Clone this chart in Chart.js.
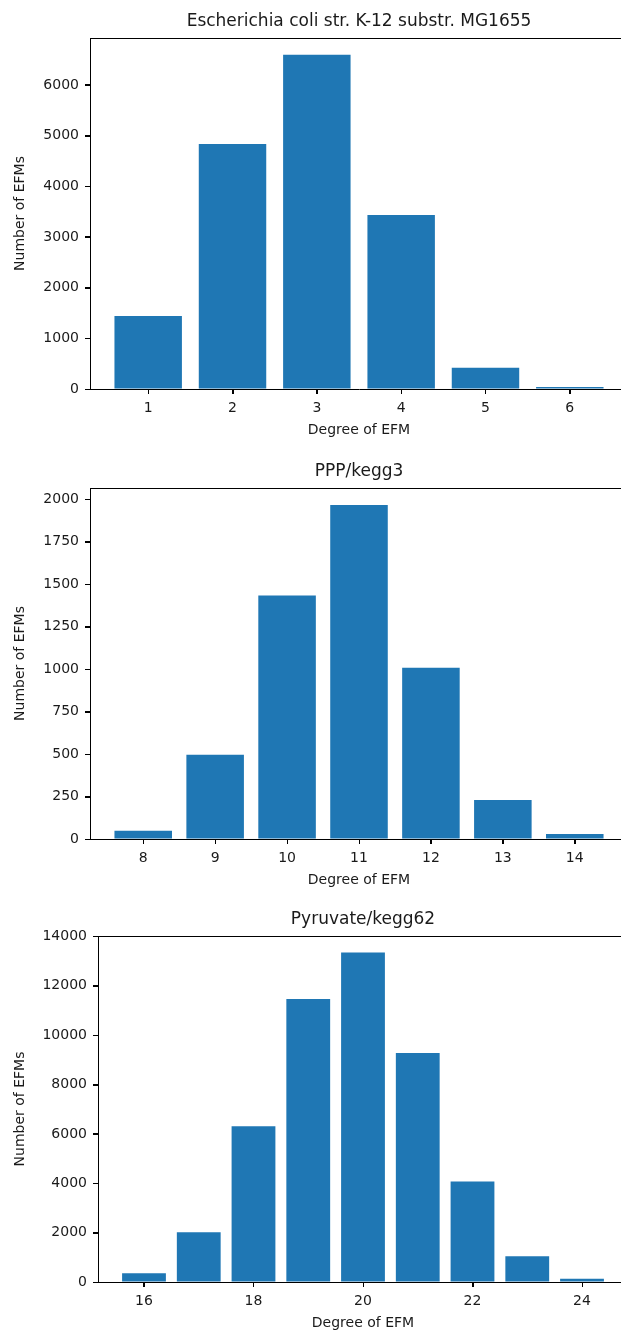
<!DOCTYPE html>
<html>
<head>
<meta charset="utf-8">
<script src="https://cdn.jsdelivr.net/npm/chart.js@4.4.0/dist/chart.umd.min.js"></script>
<style>
    html, body { margin: 0; padding: 0; background: #fff; overflow: hidden; width: 621px; height: 1333px; }
    canvas { position: absolute; left: 0; }
</style>
</head>
<body>
<canvas id="ecoli" width="640" height="445" style="top:0px"></canvas>
<canvas id="ppp" width="640" height="445" style="top:450px"></canvas>
<canvas id="pyruvate" width="640" height="438" style="top:900px"></canvas>
<script>
// E. coli K-12 MG1655
const ecoliDegrees = [1, 2, 3, 4, 5, 6];
const ecoliCounts = [1440, 4835, 6595, 3435, 420, 40];
const ecoliXTicks = [1, 2, 3, 4, 5, 6];
const ecoliYTicks = [0, 1000, 2000, 3000, 4000, 5000, 6000];

// PPP/kegg3
const pppDegrees = [8, 9, 10, 11, 12, 13, 14];
const pppCounts = [49, 495, 1433, 1965, 1007, 230, 29];
const pppXTicks = [8, 9, 10, 11, 12, 13, 14];
const pppYTicks = [0, 250, 500, 750, 1000, 1250, 1500, 1750, 2000];

// Pyruvate/kegg62
const pyruvateDegrees = [16, 17, 18, 19, 20, 21, 22, 23, 24];
const pyruvateCounts = [350, 2015, 6315, 11470, 13350, 9280, 4070, 1040, 135];
const pyruvateXTicks = [16, 18, 20, 22, 24];
const pyruvateYTicks = [0, 2000, 4000, 6000, 8000, 10000, 12000, 14000];

const barColor = "#1f77b4";
const textColor = "#1a1a1a";
const fontFamily = "'DejaVu Sans', sans-serif";
const tickLen = 5;

// top/right spines and outward tick marks like matplotlib
const framePlugin = {
    id: 'frame',
    afterDraw: (chart) => {
        const { ctx, chartArea, scales } = chart;
        ctx.save();
        ctx.strokeStyle = "#000";
        ctx.lineWidth = 1;
        ctx.beginPath();
        ctx.moveTo(chartArea.left, chartArea.top + 0.5);
        ctx.lineTo(chartArea.right, chartArea.top + 0.5);
        ctx.lineTo(chartArea.right - 0.5, chartArea.bottom);
        scales.x.ticks.forEach((t) => {
            const px = Math.round(scales.x.getPixelForValue(t.value)) + 0.5;
            ctx.moveTo(px, chartArea.bottom);
            ctx.lineTo(px, chartArea.bottom + tickLen);
        });
        scales.y.ticks.forEach((t) => {
            const py = Math.round(scales.y.getPixelForValue(t.value)) + 0.5;
            ctx.moveTo(chartArea.left, py);
            ctx.lineTo(chartArea.left - tickLen, py);
        });
        ctx.stroke();
        ctx.restore();
    }
}

const makeChart = (id, cfg) => {
    const ctx = document.getElementById(id).getContext('2d');
    // matplotlib style 5% margin around bars of width 0.8
    const lo = cfg.degrees[0] - 0.4;
    const hi = cfg.degrees[cfg.degrees.length - 1] + 0.4;
    const margin = (hi - lo) * 0.05;
    return new Chart(ctx, {
        type: 'bar',
        data: {
            datasets: [{
                xAxisID: 'x',
                yAxisID: 'y',
                data: cfg.degrees.map((d, i) => ({ x: d, y: cfg.counts[i] })),
                backgroundColor: barColor,
                borderWidth: 0,
                barPercentage: 0.8,
                categoryPercentage: 1.0,
            }]
        },
        plugins: [framePlugin],
        options: {
            responsive: false,
            animation: false,
            layout: { padding: { left: 0, right: 12, top: 0, bottom: 0 } },
            plugins: {
                legend: { display: false },
                tooltip: { enabled: false },
            },
            scales: {
                x: {
                    type: 'linear',
                    offset: false,
                    min: lo - margin,
                    max: hi + margin,
                    afterFit: (scale) => { scale.height = 56; },
                    afterBuildTicks: (scale) => { scale.ticks = cfg.xTicks.map((v) => ({ value: v })); },
                    grid: { offset: false, drawOnChartArea: false, drawTicks: true, tickLength: tickLen, tickColor: "#000" },
                    border: { display: true, color: "#000", width: 1 },
                    ticks: {
                        autoSkip: false,
                        maxRotation: 0,
                        padding: 5.5,
                        color: textColor,
                        font: { family: fontFamily, size: 14 },
                        callback: (value) => String(value),
                    },
                    title: {
                        display: true,
                        text: "Degree of EFM",
                        color: textColor,
                        font: { family: fontFamily, size: 14 },
                        padding: { top: 0, bottom: 6.6 },
                    }
                },
                y: {
                    min: 0,
                    max: cfg.yMax,
                    afterFit: (scale) => { scale.width = cfg.leftWidth; },
                    afterBuildTicks: (scale) => { scale.ticks = cfg.yTicks.map((v) => ({ value: v })); },
                    grid: { drawOnChartArea: false, drawTicks: true, tickLength: tickLen, tickColor: "#000" },
                    border: { display: true, color: "#000", width: 1 },
                    ticks: {
                        autoSkip: false,
                        padding: 6,
                        color: textColor,
                        font: { family: fontFamily, size: 14 },
                        callback: (value) => String(value),
                    },
                    title: {
                        display: true,
                        text: "Number of EFMs",
                        color: textColor,
                        font: { family: fontFamily, size: 14 },
                        padding: { top: 11.6, bottom: 0 },
                    }
                },
                // empty top axis, only used so the title centres over the plot area
                top: {
                    type: 'linear',
                    position: 'top',
                    offset: false,
                    min: lo - margin,
                    max: hi + margin,
                    afterFit: (scale) => { scale.height = cfg.topHeight; },
                    grid: { display: false },
                    border: { display: false },
                    ticks: { display: false },
                    title: {
                        display: true,
                        text: cfg.title,
                        color: textColor,
                        font: { family: fontFamily, size: 17 },
                        padding: { top: cfg.titleTop, bottom: 0 },
                    }
                }
            }
        }
    })
}

makeChart('ecoli', {
    title: "Escherichia coli str. K-12 substr. MG1655",
    degrees: ecoliDegrees, counts: ecoliCounts,
    xTicks: ecoliXTicks, yTicks: ecoliYTicks, yMax: 6927,
    leftWidth: 90, topHeight: 38, titleTop: 11.8,
});

makeChart('ppp', {
    title: "PPP/kegg3",
    degrees: pppDegrees, counts: pppCounts,
    xTicks: pppXTicks, yTicks: pppYTicks, yMax: 2065,
    leftWidth: 90, topHeight: 38, titleTop: 11.3,
});

makeChart('pyruvate', {
    title: "Pyruvate/kegg62",
    degrees: pyruvateDegrees, counts: pyruvateCounts,
    xTicks: pyruvateXTicks, yTicks: pyruvateYTicks, yMax: 14018,
    leftWidth: 98, topHeight: 36, titleTop: 9.3,
});
</script>
</body>
</html>
